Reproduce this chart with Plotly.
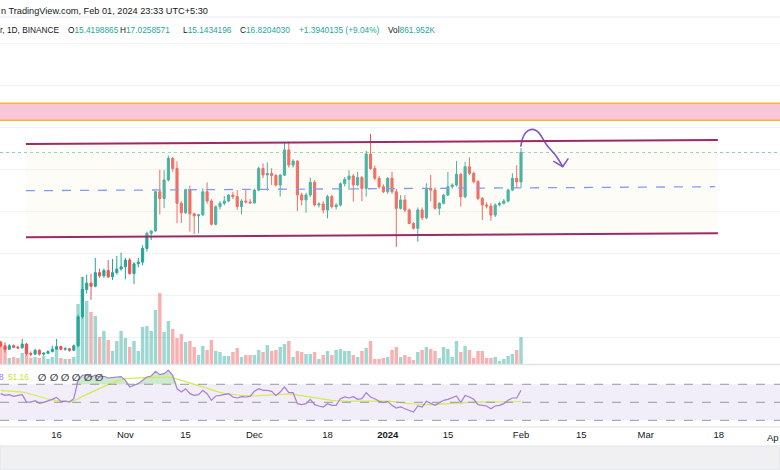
import pandas as pd
import plotly.graph_objects as go

W, H = 780, 470

first_day = "2023-10-03"

opens = [7.80, 7.62, 7.45, 7.62, 7.55, 7.52, 7.70, 7.25, 7.22, 7.40, 7.22, 7.26, 7.34, 7.46, 7.58, 7.45, 7.48, 7.40,
         7.62, 9.00, 10.30, 10.60, 10.45, 11.10, 10.95, 11.20, 10.90, 11.10, 11.27, 11.38, 11.70, 11.06, 11.52, 11.60,
         12.25, 12.97, 13.08, 14.95, 14.63, 15.51, 16.54, 16.06, 14.40, 13.95, 15.05, 13.90, 13.80, 13.85, 14.95, 14.51,
         13.40, 14.24, 14.40, 14.51, 14.79, 14.72, 14.24, 14.51, 14.46, 14.42, 15.03, 16.06, 15.75, 15.82, 15.72, 15.27,
         15.74, 16.94, 16.22, 16.41, 14.80, 14.56, 14.80, 15.40, 14.32, 14.37, 14.08, 14.72, 14.24, 14.32, 15.33, 15.54,
         15.70, 15.28, 15.63, 15.11, 16.75, 16.06, 15.59, 15.19, 14.95, 15.59, 14.95, 14.16, 14.56, 14.08, 13.44, 13.21,
         14.08, 13.71, 15.11, 15.03, 14.16, 14.40, 14.79, 15.19, 15.27, 15.78, 14.71, 16.14, 15.83, 15.43, 14.63, 14.32,
         14.27, 13.84, 14.32, 14.40, 14.51, 15.03, 15.59, 15.4198865]
highs = [7.85, 7.78, 7.70, 7.68, 7.62, 7.95, 7.75, 7.35, 7.48, 7.45, 7.32, 7.40, 7.62, 7.95, 7.62, 7.55, 7.50, 7.68,
         9.10, 10.90, 11.00, 11.05, 11.80, 11.30, 11.30, 11.70, 11.75, 11.90, 12.05, 11.80, 11.80, 11.60, 11.80, 12.40,
         13.05, 13.10, 14.98, 16.00, 15.98, 16.67, 16.60, 16.40, 14.50, 15.10, 15.25, 13.95, 13.90, 15.11, 15.40, 14.60,
         14.30, 14.50, 14.75, 14.85, 14.95, 15.03, 14.60, 15.03, 14.60, 15.10, 16.15, 16.30, 16.35, 16.07, 15.80, 15.80,
         17.30, 17.33, 16.50, 16.45, 14.90, 14.90, 15.62, 15.50, 14.45, 14.50, 14.80, 14.80, 14.40, 15.40, 15.65, 15.98,
         15.80, 15.90, 15.70, 16.90, 17.70, 16.20, 15.70, 15.30, 15.65, 15.90, 15.10, 14.79, 14.79, 14.15, 13.50, 14.20,
         14.20, 15.35, 15.75, 15.15, 14.45, 14.85, 15.90, 15.35, 16.41, 15.85, 16.38, 16.59, 15.90, 15.50, 14.70, 14.45,
         14.40, 14.40, 14.48, 14.60, 15.10, 15.83, 16.22, 17.0258571]
lows = [7.55, 7.30, 7.42, 7.50, 7.45, 7.48, 7.15, 7.12, 7.18, 7.15, 7.14, 7.22, 7.30, 7.42, 7.40, 7.38, 7.34, 7.36,
        7.55, 8.90, 10.10, 9.80, 10.40, 10.85, 10.85, 10.85, 10.75, 11.00, 11.20, 10.78, 11.00, 10.55, 11.35, 11.45,
        12.10, 12.65, 13.05, 13.87, 14.17, 15.45, 15.90, 13.45, 13.47, 13.90, 13.05, 12.94, 12.98, 13.80, 14.38, 13.35,
        13.35, 14.10, 14.30, 14.45, 14.60, 14.10, 13.87, 14.40, 14.38, 14.38, 14.98, 15.60, 15.00, 15.27, 15.20, 14.72,
        15.70, 16.10, 16.10, 14.03, 14.30, 13.95, 14.70, 14.25, 14.20, 13.92, 13.68, 14.15, 14.10, 14.25, 15.20, 15.03,
        14.48, 15.20, 14.50, 14.72, 16.00, 15.50, 15.10, 14.88, 14.85, 14.85, 12.33, 14.10, 13.97, 13.40, 13.15, 12.57,
        13.60, 13.65, 14.50, 14.10, 13.84, 14.35, 14.75, 15.10, 15.20, 14.24, 14.65, 15.75, 15.35, 14.55, 13.60, 14.15,
        13.57, 13.75, 14.25, 14.35, 14.45, 14.98, 15.14, 15.1434196]
closes = [7.62, 7.45, 7.62, 7.55, 7.52, 7.70, 7.25, 7.22, 7.40, 7.22, 7.26, 7.34, 7.46, 7.58, 7.45, 7.48, 7.40, 7.62,
          9.00, 10.30, 10.60, 10.45, 11.10, 10.95, 11.20, 10.90, 11.10, 11.27, 11.38, 11.70, 11.06, 11.52, 11.60, 12.25,
          12.97, 13.08, 14.95, 14.63, 15.51, 16.54, 16.06, 14.40, 13.95, 15.05, 13.90, 13.80, 13.85, 14.95, 14.51, 13.40,
          14.24, 14.40, 14.51, 14.79, 14.72, 14.24, 14.51, 14.46, 14.42, 15.03, 16.06, 15.75, 15.82, 15.72, 15.27, 15.74,
          16.94, 16.22, 16.41, 14.80, 14.56, 14.80, 15.40, 14.32, 14.37, 14.08, 14.72, 14.24, 14.32, 15.33, 15.54, 15.70,
          15.28, 15.63, 15.11, 16.75, 16.06, 15.59, 15.19, 14.95, 15.59, 14.95, 14.16, 14.56, 14.08, 13.44, 13.21, 14.08,
          13.71, 15.11, 15.03, 14.16, 14.40, 14.79, 15.19, 15.27, 15.78, 14.71, 16.14, 15.83, 15.43, 14.63, 14.32, 14.27,
          13.84, 14.32, 14.40, 14.51, 15.03, 15.59, 15.42, 16.8204030]

# volume in thousands
volume_k = [640, 544, 192, 224, 192, 352, 640, 192, 224, 192, 256, 160, 224, 480, 192, 160, 160, 224,
            1920, 2784, 2016, 1664, 1536, 864, 1056, 768, 416, 736, 1056, 832, 544, 736, 416, 1184, 1216, 1056, 1728,
            2272, 1024, 1376, 1120, 832, 960, 704, 736, 544, 288, 576, 448, 768, 416,
            384, 256, 256, 384, 512, 224, 288, 288, 288, 448, 384, 608, 416, 448, 544, 640,
            736, 224, 416, 384, 320, 320, 384, 160, 288, 416, 288, 448, 480, 416, 416, 288, 224, 416, 512, 736,
            160, 160, 192, 224,
            448, 544, 224, 288, 224, 128, 384, 448, 544, 480, 416, 192, 544, 480, 224, 736, 384, 576, 448, 192,
            416, 416, 192, 192, 224, 96, 160, 256, 320, 448, 861.952]

rsi = [59.6, 57.7, 58.5, 56.6, 57.7, 58.5, 50.3, 50.3, 51.8, 48.9, 50.0, 51.4, 53.3, 55.5, 51.1, 51.4, 50.3, 54.0,
       74.4, 80.0, 80.7, 78.1, 80.0, 78.1, 78.9, 77.0, 77.4, 77.7, 78.5, 74.4, 67.0, 68.9, 70.7, 74.4, 78.1, 79.2,
       84.4, 80.7, 81.8, 85.5, 80.0, 65.1, 61.4, 65.1, 59.6, 57.7, 58.5, 63.3, 59.6, 52.2, 57.0, 57.7, 58.5, 59.6,
       55.9, 54.8, 56.3, 55.9, 56.6, 62.2, 65.1, 63.3, 63.3, 62.2, 57.7, 61.4, 67.0, 60.7, 60.7, 48.5, 47.4, 48.5,
       53.3, 47.4, 45.9, 44.8, 48.5, 46.6, 46.6, 54.0, 55.9, 54.8, 56.3, 53.3, 54.0, 60.7, 55.9, 54.0, 51.1, 49.6,
       51.1, 46.6, 43.7, 44.8, 42.9, 41.1, 39.2, 45.9, 44.8, 51.1, 48.5, 46.6, 49.6, 52.2, 53.3, 54.8, 57.0, 49.6,
       57.7, 55.9, 53.3, 47.4, 46.6, 45.9, 42.9, 45.9, 46.6, 48.5, 52.2, 54.8, 54.8, 63.3]
rsi_ma = [63.3, 62.9, 62.9, 62.6, 62.2, 61.4, 60.3, 59.2, 58.1, 56.6, 55.1, 53.7, 52.6, 51.8, 51.4, 51.1, 51.1, 51.8,
          53.7, 56.6, 58.9, 61.1, 63.3, 65.5, 67.7, 70.0, 71.8, 73.7, 75.1, 76.3, 76.6, 77.0, 77.0, 77.4, 77.4, 77.4,
          77.7, 78.1, 78.1, 78.1, 77.4, 76.3, 74.4, 72.9, 71.4, 70.0, 68.1, 66.6, 65.1, 63.7, 62.2, 61.1, 60.0, 59.2,
          58.5, 58.1, 57.7, 57.4, 57.4, 57.0, 57.4, 57.7, 58.1, 58.1, 58.5, 58.9, 59.2, 59.2, 58.9, 58.1, 57.4, 56.6,
          55.9, 55.1, 54.4, 53.7, 53.0, 52.2, 51.8, 51.4, 51.1, 51.1, 51.4, 51.4, 51.8, 51.8, 52.2, 52.2, 52.2, 51.8,
          51.4, 51.1, 50.3, 49.6, 48.9, 48.5, 48.1, 47.7, 47.4, 47.4, 47.4, 47.7, 48.1, 48.5, 48.9, 49.2, 49.6, 50.0,
          50.3, 50.3, 50.3, 50.3, 50.3, 50.0, 50.0, 50.0, 50.0, 50.0, 50.3, 50.3, 50.7, 51.16]

tick_dates = ["2023-10-16", "2023-11-01", "2023-11-15", "2023-12-01", "2023-12-18", "2024-01-01",
              "2024-01-15", "2024-02-01", "2024-02-15", "2024-03-01", "2024-03-18"]
tick_text = ["16", "Nov", "15", "Dec", "18", "<b>2024</b>", "15", "Feb", "15", "Mar", "18"]

# drawings made on the chart
zone_low, zone_high = 18.35, 19.16
channel_start, channel_end = "2023-10-08 21:00", "2024-03-17 19:00"
channel_top = [17.22, 17.41]
channel_bottom = [12.78, 12.97]
channel_mid = [15.00, 15.19]
mid_end = "2024-03-17 03:00"
last_price = closes[-1]
arrow_days = [-0.07, 0.53, 1.4, 2.49, 3.49, 4.26, 5.98, 8.30, 9.70]
arrow_prices = [17.10, 17.57, 17.82, 17.92, 17.87, 17.73, 17.18, 16.62, 16.14]
head_days = [7.51, 9.70, 11.0]
head_prices = [16.41, 16.14, 16.54]

UP, DOWN = "#26a69a", "#ef5350"
TEXT = "#131722"
FONT = "Liberation Sans, Arial, sans-serif"


def px(x):
    return x / W


def py(y):
    return 1 - y / H


dates = pd.date_range(first_day, periods=len(closes), freq="D")
last_day = dates[-1]
vol_colors = ["rgba(38,166,154,0.45)" if c >= o else "rgba(239,83,80,0.45)" for o, c in zip(opens, closes)]

fig = go.Figure()

fig.add_trace(go.Bar(x=dates, y=volume_k, marker=dict(color=vol_colors, line=dict(width=0)),
                     xaxis="x", yaxis="y", hoverinfo="skip"))

fig.add_trace(go.Candlestick(
    x=dates, open=opens, high=highs, low=lows, close=closes, xaxis="x", yaxis="y2",
    increasing=dict(line=dict(color=UP, width=1), fillcolor=UP),
    decreasing=dict(line=dict(color=DOWN, width=1), fillcolor=DOWN),
))

# channel background
fig.add_trace(go.Scatter(
    x=[channel_start, channel_end, channel_end, channel_start, channel_start],
    y=[channel_top[0], channel_top[1], channel_bottom[1], channel_bottom[0], channel_top[0]],
    fill="toself", fillcolor="rgba(250,238,205,0.18)", line=dict(width=0), mode="lines",
    xaxis="x", yaxis="y2", hoverinfo="skip"))

# hand-drawn arrow
arrow_x = last_day + pd.to_timedelta(arrow_days, unit="D")
head_x = last_day + pd.to_timedelta(head_days, unit="D")
fig.add_trace(go.Scatter(x=arrow_x, y=arrow_prices, mode="lines",
                         line=dict(color="#7e57c2", width=1.6, shape="spline"),
                         xaxis="x", yaxis="y2", hoverinfo="skip"))
fig.add_trace(go.Scatter(x=head_x, y=head_prices, mode="lines",
                         line=dict(color="#7e57c2", width=1.6),
                         xaxis="x", yaxis="y2", hoverinfo="skip"))

# RSI pane
fig.add_trace(go.Scatter(x=dates, y=[70] * len(rsi), mode="lines", line=dict(width=0),
                         xaxis="x", yaxis="y3", hoverinfo="skip"))
fig.add_trace(go.Scatter(x=dates, y=[max(v, 70) for v in rsi], mode="lines", line=dict(width=0),
                         fill="tonexty", fillcolor="rgba(76,175,80,0.28)",
                         xaxis="x", yaxis="y3", hoverinfo="skip"))
fig.add_trace(go.Scatter(x=dates, y=rsi_ma, mode="lines", line=dict(color="#d4ea4e", width=1.2),
                         xaxis="x", yaxis="y3", hoverinfo="skip"))
fig.add_trace(go.Scatter(x=dates, y=rsi, mode="lines", line=dict(color="#a57ed8", width=1.2),
                         xaxis="x", yaxis="y3", hoverinfo="skip"))

shapes = [
    # pane borders
    dict(type="line", xref="paper", yref="paper", x0=0, x1=1, y0=py(17), y1=py(17),
         line=dict(color="#e6e8ee", width=1)),
    dict(type="line", xref="paper", yref="paper", x0=0, x1=1, y0=py(364.5), y1=py(364.5),
         line=dict(color="#e0e3eb", width=1.5)),
    dict(type="line", xref="paper", yref="paper", x0=0, x1=1, y0=py(427), y1=py(427),
         line=dict(color="#e0e3eb", width=1)),
    dict(type="rect", xref="paper", yref="paper", x0=0, x1=1, y0=0, y1=py(446),
         fillcolor="#f0f0f2", line=dict(color="#e0e3eb", width=1)),
    # supply zone
    dict(type="rect", xref="paper", yref="y2", x0=0, x1=1, y0=zone_low, y1=zone_high,
         fillcolor="#f8c6d6", line=dict(width=0), layer="between"),
    dict(type="line", xref="paper", yref="y2", x0=0, x1=1, y0=zone_low, y1=zone_low,
         line=dict(color="#f6b73c", width=1.5)),
    dict(type="line", xref="paper", yref="y2", x0=0, x1=1, y0=zone_high, y1=zone_high,
         line=dict(color="#f6b73c", width=1.5)),
    # last price
    dict(type="line", xref="paper", yref="y2", x0=0, x1=1, y0=last_price, y1=last_price,
         line=dict(color="#7fcfc6", width=1, dash="dot"), layer="between"),
    # channel
    dict(type="line", xref="x", yref="y2", x0=channel_start, x1=channel_end,
         y0=channel_top[0], y1=channel_top[1], line=dict(color="#9c2a66", width=2)),
    dict(type="line", xref="x", yref="y2", x0=channel_start, x1=channel_end,
         y0=channel_bottom[0], y1=channel_bottom[1], line=dict(color="#9c2a66", width=2)),
    dict(type="line", xref="x", yref="y2", x0=channel_start, x1=mid_end,
         y0=channel_mid[0], y1=channel_mid[1], line=dict(color="#7f9cf5", width=1.3, dash="dash")),
    # RSI bands
    dict(type="rect", xref="paper", yref="y3", x0=0, x1=1, y0=30, y1=70,
         fillcolor="rgba(126,87,194,0.1)", line=dict(width=0), layer="below"),
]
for level in [70, 50, 30]:
    shapes.append(dict(type="line", xref="paper", yref="y3", x0=0, x1=1, y0=level, y1=level,
                       line=dict(color="#9598a1", width=1, dash="dash")))

teal = lambda s: '<span style="color:%s">%s</span>' % (UP, s)
annotations = [
    dict(x=px(-1), y=py(11), text="n TradingView.com, Feb 01, 2024 23:33 UTC+5:30", font=dict(size=9.2)),
    dict(x=px(-2), y=py(30), text="r, 1D, BINANCE"),
    dict(x=px(66), y=py(30), text="O" + teal("15.4198865")),
    dict(x=px(118), y=py(30), text="H" + teal("17.0258571")),
    dict(x=px(181), y=py(30), text="L" + teal("15.1434196")),
    dict(x=px(238), y=py(30), text="C" + teal("16.8204030")),
    dict(x=px(297), y=py(30), text=teal("+1.3940135 (+9.04%)")),
    dict(x=px(386), y=py(30), text="Vol" + teal("861.952K")),
    dict(x=px(-3), y=py(377), text='<span style="color:#a57ed8">8</span>'),
    dict(x=px(6), y=py(377), text='<span style="color:#c8df3a">51.16</span>'),
    # last time label at the right edge
    dict(x=px(765), y=py(437), text="Ap", font=dict(size=9.5)),
]
for gx in [36, 48, 59, 70, 82, 93]:
    annotations.append(dict(x=px(gx), y=py(377), text="<b>∅</b>",
                            font=dict(size=10, color="#3c3f4a", family="DejaVu Sans")))
for a in annotations:
    f = a.pop("font", {})
    a.update(xref="paper", yref="paper", xanchor="left", yanchor="middle", showarrow=False,
             font=dict(family=f.get("family", FONT), size=f.get("size", 8.3), color=f.get("color", TEXT)))

x_start = dates[0] - pd.Timedelta(days=0.163)
x_end = dates[0] + pd.Timedelta(days=181.23)

fig.update_layout(
    width=W, height=H,
    margin=dict(l=0, r=0, t=0, b=0),
    paper_bgcolor="white", plot_bgcolor="white",
    showlegend=False,
    font=dict(family=FONT, size=9.5, color=TEXT),
    xaxis=dict(type="date", range=[x_start, x_end], anchor="y3", showgrid=False, zeroline=False,
               showline=False, ticks="", tickvals=tick_dates, ticktext=tick_text,
               tickfont=dict(size=9.5, color=TEXT), rangeslider=dict(visible=False), fixedrange=True),
    yaxis=dict(domain=[py(364), py(17)], range=[0, 11104], visible=False, fixedrange=True),
    yaxis2=dict(overlaying="y", range=[6.75, 23.27], dtick=2, tick0=0, showgrid=True,
                gridcolor="#f0f2f6", zeroline=False, showticklabels=False, showline=False, fixedrange=True),
    yaxis3=dict(domain=[py(427), py(365)], range=[22.6, 91.4], visible=False, fixedrange=True),
    shapes=shapes,
    annotations=annotations,
)

fig.write_html("out.html", config={"displayModeBar": False},
               post_script="document.body.style.margin='0px';document.body.style.overflow='hidden';")
